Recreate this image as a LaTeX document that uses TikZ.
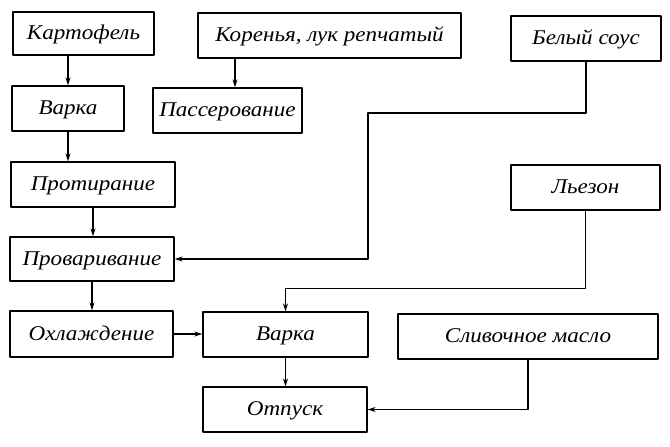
\documentclass[tikz,border=0pt]{standalone}
\usepackage{fontspec}
\setmainfont{Liberation Serif}[FakeStretch=1.1]
\usetikzlibrary{arrows.meta}
\begin{document}
\begin{tikzpicture}[>={Stealth[length=8pt,width=5pt]},line join=round,x=1pt,y=-1pt,
	box/.style={draw,line width=1.3pt,inner sep=0pt,text height=12pt,text depth=0pt,
		font=\fontsize{21}{25}\selectfont\itshape},
	link/.style={->,line width=1.2pt}]
	\useasboundingbox (0,0) rectangle (670,447);
	% boxes
	\node[box,minimum width=141pt,minimum height=43pt] (kart) at (83.5,33.5) {Картофель};
	\node[box,minimum width=263pt,minimum height=45pt] (koren) at (329.5,35.5) {Коренья, лук репчатый};
	\node[box,minimum width=150pt,minimum height=45pt] (sous) at (586,38.5) {Белый соус};
	\node[box,minimum width=112pt,minimum height=45pt] (varka_1) at (68,108.5) {Варка};
	\node[box,minimum width=149pt,minimum height=45pt] (passer) at (227.5,110.5) {Пассерование};
	\node[box,minimum width=164pt,minimum height=45pt] (protir) at (93,184.5) {Протирание};
	\node[box,minimum width=149pt,minimum height=45pt] (lezon) at (585.5,187.5) {Льезон};
	\node[box,minimum width=164pt,minimum height=44pt] (provar) at (92,259) {Проваривание};
	\node[box,minimum width=163pt,minimum height=46pt] (ohlazh) at (91.5,334) {Охлаждение};
	\node[box,minimum width=165pt,minimum height=45pt] (varka_2) at (285.5,334.5) {Варка};
	\node[box,minimum width=260pt,minimum height=45pt] (maslo) at (528,336.5) {Сливочное масло};
	\node[box,minimum width=164pt,minimum height=45pt] (otpusk) at (285,409.5) {Отпуск};
	\path (368,113) coordinate (bend_1);
	% arrows
	\draw[link] (varka_1.north |- kart.south) -- (varka_1.north);
	\draw[link] ([xshift=-94.5pt]koren.south) -- ([xshift=7.5pt]passer.north);
	\draw[link] (varka_1.south) -- (varka_1.south |- protir.north);
	\draw[link] (protir.south) -- (protir.south |- provar.north);
	\draw[link] (provar.south) -- (provar.south |- ohlazh.north);
	\draw[link] (ohlazh.east) -- (ohlazh.east -| varka_2.west);
	\draw[link] (varka_2.south) -- (varka_2.south |- otpusk.north);
	\draw[link] (sous.south) |- (bend_1) |- (provar.east);
	\draw[link] (lezon.south) -- ++(0,78) -| (varka_2.north);
	\draw[link] (maslo.south) |- (otpusk.east);
\end{tikzpicture}
\end{document}
